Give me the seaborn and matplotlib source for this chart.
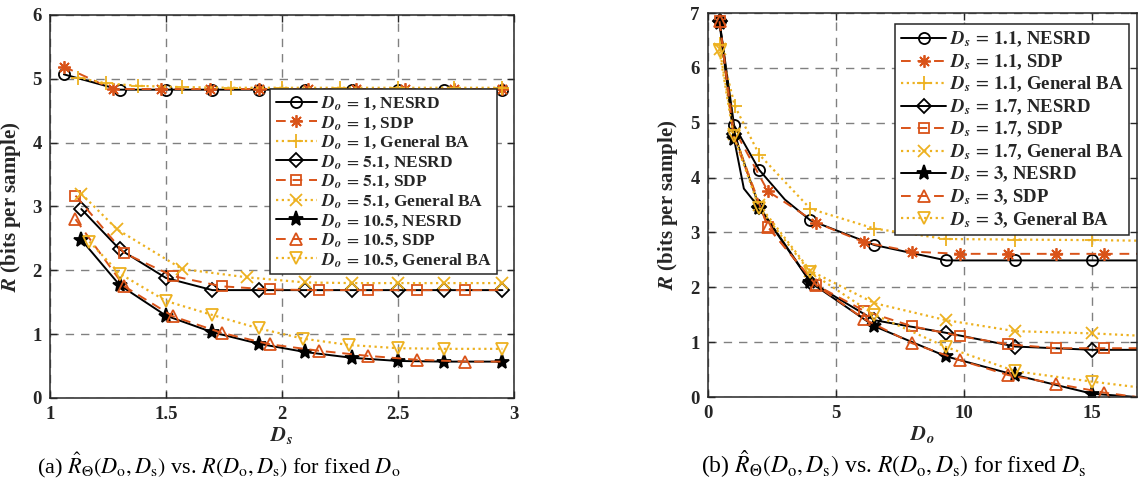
import numpy as np
import pandas as pd
import matplotlib
matplotlib.use("Agg")
import matplotlib.pyplot as plt
import seaborn as sns

# ---------------- data: panel (a), rate vs. D_s for fixed D_o ----------------
a_do1_nesrd_x = [1.06, 1.30, 1.50, 1.70, 1.90, 2.10, 2.30, 2.50, 2.70, 2.95]
a_do1_nesrd_y = [5.07, 4.83, 4.83, 4.83, 4.83, 4.83, 4.83, 4.83, 4.83, 4.83]
a_do1_sdp_x = [1.06, 1.27, 1.48, 1.69, 1.90, 2.11, 2.32, 2.53, 2.74, 2.95]
a_do1_sdp_y = [5.19, 4.84, 4.84, 4.84, 4.84, 4.84, 4.84, 4.84, 4.84, 4.84]
a_do1_gba_x = [1.12, 1.24, 1.38, 1.57, 1.78, 2.00, 2.25, 2.50, 2.74, 2.95]
a_do1_gba_y = [5.02, 4.93, 4.89, 4.87, 4.86, 4.86, 4.86, 4.86, 4.86, 4.86]

a_do5_nesrd_x = [1.135, 1.30, 1.50, 1.70, 1.90, 2.10, 2.30, 2.50, 2.70, 2.95]
a_do5_nesrd_y = [2.96, 2.33, 1.88, 1.69, 1.69, 1.69, 1.69, 1.69, 1.69, 1.69]
a_do5_sdp_x = [1.11, 1.32, 1.53, 1.74, 1.95, 2.16, 2.37, 2.58, 2.79, 2.95]
a_do5_sdp_y = [3.17, 2.27, 1.91, 1.75, 1.70, 1.69, 1.69, 1.69, 1.69, 1.69]
a_do5_gba_x = [1.135, 1.29, 1.57, 1.85, 2.10, 2.30, 2.50, 2.70, 2.95]
a_do5_gba_y = [3.20, 2.64, 2.02, 1.89, 1.81, 1.80, 1.80, 1.80, 1.80]

a_do10_nesrd_x = [1.135, 1.30, 1.50, 1.70, 1.90, 2.10, 2.30, 2.50, 2.70, 2.95]
a_do10_nesrd_y = [2.48, 1.77, 1.29, 1.03, 0.85, 0.72, 0.63, 0.58, 0.57, 0.57]
a_do10_sdp_x = [1.11, 1.32, 1.53, 1.74, 1.95, 2.16, 2.37, 2.58, 2.79, 2.95]
a_do10_sdp_y = [2.80, 1.75, 1.28, 1.02, 0.84, 0.74, 0.66, 0.60, 0.57, 0.57]
a_do10_gba_x = [1.17, 1.30, 1.50, 1.70, 1.90, 2.09, 2.29, 2.50, 2.70, 2.95]
a_do10_gba_y = [2.45, 1.95, 1.52, 1.30, 1.09, 0.93, 0.83, 0.78, 0.77, 0.77]

# ---------------- data: panel (b), rate vs. D_o for fixed D_s ----------------
b_ds11_nesrd_x = [0.45, 1.02, 2.0, 3.0, 4.0, 6.5, 9.3, 12.0, 15.0, 16.75]
b_ds11_nesrd_y = [6.85, 4.95, 4.14, 3.60, 3.22, 2.77, 2.49, 2.49, 2.49, 2.49]
b_ds11_sdp_x = [0.45, 1.0, 2.34, 4.22, 6.1, 7.97, 9.85, 11.72, 13.6, 15.47, 16.75]
b_ds11_sdp_y = [6.85, 4.90, 3.75, 3.18, 2.82, 2.65, 2.61, 2.61, 2.61, 2.61, 2.61]
b_ds11_gba_x = [0.45, 1.05, 2.0, 4.0, 6.5, 9.3, 12.0, 15.0, 16.75]
b_ds11_gba_y = [6.43, 5.30, 4.42, 3.43, 3.07, 2.88, 2.87, 2.86, 2.85]

b_ds17_nesrd_x = [0.45, 1.02, 2.0, 4.0, 6.5, 9.3, 12.0, 15.0, 16.75]
b_ds17_nesrd_y = [6.85, 4.80, 3.47, 2.10, 1.40, 1.17, 0.92, 0.86, 0.86]
b_ds17_sdp_x = [0.45, 1.0, 2.34, 4.22, 6.1, 7.97, 9.85, 11.72, 13.6, 15.47, 16.75]
b_ds17_sdp_y = [6.85, 4.80, 3.10, 2.04, 1.57, 1.29, 1.11, 0.96, 0.89, 0.89, 0.89]
b_ds17_gba_x = [0.45, 1.02, 2.0, 4.0, 6.5, 9.3, 12.0, 15.0, 16.75]
b_ds17_gba_y = [6.35, 4.80, 3.50, 2.30, 1.71, 1.40, 1.20, 1.16, 1.12]

b_ds3_nesrd_x = [0.45, 1.02, 1.4, 2.0, 4.0, 6.5, 9.3, 12.0, 15.0, 16.75]
b_ds3_nesrd_y = [6.82, 4.70, 3.80, 3.45, 2.09, 1.29, 0.74, 0.40, 0.06, 0.0]
b_ds3_sdp_x = [0.45, 1.0, 2.34, 4.22, 6.1, 7.97, 9.85, 11.72, 13.6, 15.47, 16.75]
b_ds3_sdp_y = [6.85, 4.75, 3.10, 2.04, 1.42, 0.98, 0.67, 0.40, 0.24, 0.08, 0.0]
b_ds3_gba_x = [0.45, 1.0, 2.0, 4.0, 6.5, 9.3, 12.0, 15.0, 16.75]
b_ds3_gba_y = [6.30, 4.76, 3.45, 2.27, 1.50, 0.91, 0.47, 0.28, 0.18]

a_fixed = ["1", "5.1", "10.5"]
b_fixed = ["1.1", "1.7", "3"]
methods = ["NESRD", "SDP", "General BA"]

# ---------------- styling ----------------
sns.set_theme(style="white")
plt.rcParams["font.family"] = ["Liberation Serif", "DejaVu Serif"]
plt.rcParams["mathtext.fontset"] = "stix"

BLACK = "#000000"
ORANGE = "#D95319"
YELLOW = "#EDB120"
ASTER = (8, 2, 0)

method_style = {
    "NESRD": dict(color=BLACK, linestyle="-", linewidth=1.4),
    "SDP": dict(color=ORANGE, linestyle=(0, (5, 3.5)), linewidth=1.4),
    "General BA": dict(color=YELLOW, linestyle=(0, (1, 1.6)), linewidth=1.6),
}


def draw(ax, x, y, method, marker, label, filled=False, msize=8, marks=None):
    st = method_style[method]
    c = st["color"]
    sns.lineplot(
        x=x, y=y, ax=ax, sort=False, estimator=None, label=label,
        color=c, linestyle=st["linestyle"], linewidth=st["linewidth"],
        marker=marker, markersize=msize,
        markerfacecolor=c if filled else "none",
        markeredgecolor=c, markeredgewidth=1.3,
        markevery=marks,
    )


fig = plt.figure(figsize=(11.41, 4.93), dpi=100)
ax1 = fig.add_axes([0.0438, 0.1927, 0.4067, 0.7769])
ax2 = fig.add_axes([0.6205, 0.1947, 0.3760, 0.7789])


def lab(sym, val, meth):
    return r"$\mathbfit{%s}\,=\,\mathbf{%s}$, %s" % (sym, val, meth)


# panel (a)
draw(ax1, a_do1_nesrd_x, a_do1_nesrd_y, "NESRD", "o", lab("D_o", a_fixed[0], methods[0]))
draw(ax1, a_do1_sdp_x, a_do1_sdp_y, "SDP", ASTER, lab("D_o", a_fixed[0], methods[1]), msize=9)
draw(ax1, a_do1_gba_x, a_do1_gba_y, "General BA", "+", lab("D_o", a_fixed[0], methods[2]), msize=10)
draw(ax1, a_do5_nesrd_x, a_do5_nesrd_y, "NESRD", "D", lab("D_o", a_fixed[1], methods[0]), msize=7)
draw(ax1, a_do5_sdp_x, a_do5_sdp_y, "SDP", "s", lab("D_o", a_fixed[1], methods[1]), msize=7,
     marks=list(range(len(a_do5_sdp_x) - 1)))
draw(ax1, a_do5_gba_x, a_do5_gba_y, "General BA", "x", lab("D_o", a_fixed[1], methods[2]), msize=8)
draw(ax1, a_do10_nesrd_x, a_do10_nesrd_y, "NESRD", "*", lab("D_o", a_fixed[2], methods[0]), filled=True, msize=11)
draw(ax1, a_do10_sdp_x, a_do10_sdp_y, "SDP", "^", lab("D_o", a_fixed[2], methods[1]), msize=9,
     marks=list(range(len(a_do10_sdp_x) - 1)))
draw(ax1, a_do10_gba_x, a_do10_gba_y, "General BA", "v", lab("D_o", a_fixed[2], methods[2]), msize=9)

# panel (b)
draw(ax2, b_ds11_nesrd_x, b_ds11_nesrd_y, "NESRD", "o", lab("D_s", b_fixed[0], methods[0]),
     marks=[0, 1, 2, 4, 5, 6, 7, 8])
draw(ax2, b_ds11_sdp_x, b_ds11_sdp_y, "SDP", ASTER, lab("D_s", b_fixed[0], methods[1]), msize=9,
     marks=[0, 2, 3, 4, 5, 6, 7, 8, 9])
draw(ax2, b_ds11_gba_x, b_ds11_gba_y, "General BA", "+", lab("D_s", b_fixed[0], methods[2]), msize=10,
     marks=list(range(8)))
draw(ax2, b_ds17_nesrd_x, b_ds17_nesrd_y, "NESRD", "D", lab("D_s", b_fixed[1], methods[0]), msize=7,
     marks=list(range(8)))
draw(ax2, b_ds17_sdp_x, b_ds17_sdp_y, "SDP", "s", lab("D_s", b_fixed[1], methods[1]), msize=7,
     marks=[0, 2, 3, 4, 5, 6, 7, 8, 9])
draw(ax2, b_ds17_gba_x, b_ds17_gba_y, "General BA", "x", lab("D_s", b_fixed[1], methods[2]), msize=8,
     marks=list(range(8)))
draw(ax2, b_ds3_nesrd_x, b_ds3_nesrd_y, "NESRD", "*", lab("D_s", b_fixed[2], methods[0]), filled=True, msize=11,
     marks=[0, 1, 3, 4, 5, 6, 7, 8])
draw(ax2, b_ds3_sdp_x, b_ds3_sdp_y, "SDP", "^", lab("D_s", b_fixed[2], methods[1]), msize=9,
     marks=[0, 2, 3, 4, 5, 6, 7, 8, 9])
draw(ax2, b_ds3_gba_x, b_ds3_gba_y, "General BA", "v", lab("D_s", b_fixed[2], methods[2]), msize=9,
     marks=list(range(8)))

tick_font = dict(family="Liberation Serif", weight="bold", size=13.5)
for ax in (ax1, ax2):
    ax.grid(True, which="major", color="#808080", linestyle=(0, (6, 5)), linewidth=1.0)
    ax.set_axisbelow(True)
    for sp in ax.spines.values():
        sp.set_visible(True)
        sp.set_color("#262626")
        sp.set_linewidth(1.1)
    ax.tick_params(direction="in", length=5, width=1.0, top=True, right=True,
                   bottom=True, left=True, colors="#262626", labelcolor="#262626", pad=6)

ax1.set_xlim(1, 3)
ax1.set_ylim(0, 6)
ax1.set_xticks([1, 1.5, 2, 2.5, 3])
ax1.set_xticklabels(["1", "1.5", "2", "2.5", "3"], **tick_font)
ax1.set_yticks(range(0, 7))
ax1.set_yticklabels([str(v) for v in range(0, 7)], **tick_font)

ax2.set_xlim(0, 16.75)
ax2.set_ylim(0, 7)
ax2.set_xticks([0, 5, 10, 15])
ax2.set_xticklabels(["0", "5", "10", "15"], **tick_font)
ax2.set_yticks(range(0, 8))
ax2.set_yticklabels([str(v) for v in range(0, 8)], **tick_font)

lab_font = dict(family="Liberation Serif", weight="bold", size=15, color="#262626")
ax1.set_ylabel(r"$\mathbfit{R}$ (bits per sample)", labelpad=7, **lab_font)
ax2.set_ylabel(r"$\mathbfit{R}$ (bits per sample)", labelpad=7, **lab_font)
ax1.set_xlabel(r"$\mathbfit{D_s}$", labelpad=1, **lab_font)
ax2.set_xlabel(r"$\mathbfit{D_o}$", labelpad=1, **lab_font)

base_leg = dict(frameon=True, fancybox=False, edgecolor="#262626", framealpha=1.0,
                handlelength=2.4, handletextpad=0.2, borderpad=0.3, borderaxespad=0.0)
l1 = ax1.legend(loc="upper right", bbox_to_anchor=(0.963, 0.806),
                prop=dict(family="Liberation Serif", weight="bold", size=12.5),
                labelspacing=0.1, **base_leg)
l2 = ax2.legend(loc="upper right", bbox_to_anchor=(0.981, 0.971),
                prop=dict(family="Liberation Serif", weight="bold", size=13.5),
                labelspacing=0.16, **base_leg)
for lg in (l1, l2):
    lg.get_frame().set_linewidth(1.1)

fig.text(0.192, 0.04, r"(a) $\hat{R}_{\Theta}(D_{\rm o}, D_{\rm s})$ vs. $R(D_{\rm o}, D_{\rm s})$ for fixed $D_{\rm o}$",
         ha="center", va="baseline", family="Liberation Serif", size=16, color="black")
fig.text(0.614, 0.04, r"(b) $\hat{R}_{\Theta}(D_{\rm o}, D_{\rm s})$ vs. $R(D_{\rm o}, D_{\rm s})$ for fixed $D_{\rm s}$",
         ha="left", va="baseline", family="Liberation Serif", size=17, color="black")

fig.savefig("out.png", dpi=100, facecolor="white")
